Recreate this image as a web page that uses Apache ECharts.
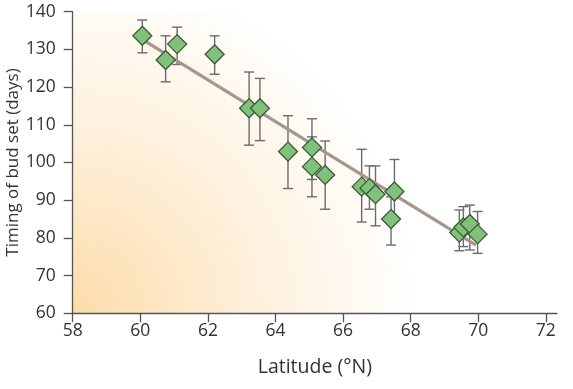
<!DOCTYPE html>
<html>
<head>
<meta charset="utf-8">
<script src="https://cdn.jsdelivr.net/npm/echarts@6/dist/echarts.min.js"></script>
<style>html,body{margin:0;padding:0;background:#fff;}#c{width:573px;height:389px;}</style>
</head>
<body>
<div id="c"></div>
<script>
// Data
const latitude = [60.06, 60.75, 61.09, 62.2, 63.22, 63.54, 64.37, 65.08, 65.08, 65.47, 66.55, 66.78, 66.96, 67.42, 67.52, 69.44, 69.56, 69.75, 69.98];
const budSet   = [133.6, 127.2, 131.4, 128.7, 114.4, 114.4, 102.9, 104.0, 98.9, 96.7, 93.6, 93.2, 91.6, 85.0, 92.3, 81.4, 82.8, 83.7, 81.0];
const errLow   = [129.1, 121.4, 126.0, 123.4, 104.6, 105.8, 93.1, 95.5, 90.9, 87.6, 84.2, 87.6, 83.2, 78.1, 85.1, 76.6, 77.7, 76.8, 75.9];
const errHigh  = [137.8, 133.6, 135.9, 133.6, 124.0, 122.3, 112.4, 111.6, 106.8, 105.7, 103.5, 99.1, 99.1, 90.9, 100.8, 87.4, 88.3, 88.7, 87.0];
const trendX = [60.08, 69.93];
const trendY = [132.5, 78.1];
const xTicks = [58, 60, 62, 64, 66, 68, 70, 72];
const yTicks = [60, 70, 80, 90, 100, 110, 120, 130, 140];

const pts = latitude.map((x, i) => [x, budSet[i]]);
const errs = latitude.map((x, i) => [x, errLow[i], errHigh[i]]);
const trend = trendX.map((x, i) => [x, trendY[i]]);

const chart = echarts.init(document.getElementById('c'), null, {renderer: 'canvas'});
const axisColor = '#555';
const font = '"Open Sans", sans-serif';
chart.setOption({
  animation: false,
  grid: {
    left: 72.7, right: 16, top: 11.7, bottom: 75.7,
    containLabel: false, outerBoundsMode: 'none',
    show: true, borderWidth: 0,
    backgroundColor: {
      type: 'radial', x: 0, y: 1, r: 1.15,
      colorStops: [
        {offset: 0, color: '#fddcaa'},
        {offset: 0.55, color: '#fef1de'},
        {offset: 1, color: '#ffffff'}
      ]
    }
  },
  xAxis: {
    type: 'value', min: 58, max: 72.33,
    name: 'Latitude (°N)', nameLocation: 'middle', nameGap: 44, nameMoveOverlap: false,
    nameTextStyle: {fontFamily: font, fontSize: 19.5, color: '#333'},
    axisLine: {show: true, onZero: false, lineStyle: {color: axisColor, width: 1.3}},
    axisTick: {show: true, length: 9, inside: false, customValues: xTicks, lineStyle: {color: axisColor, width: 1.3}},
    axisLabel: {customValues: xTicks, margin: 9, fontFamily: font, fontSize: 17.5, color: '#333'},
    splitLine: {show: false}
  },
  yAxis: {
    type: 'value', min: 60, max: 140, interval: 10,
    name: 'Timing of bud set (days)', nameLocation: 'middle', nameGap: 51, nameRotate: 90, nameMoveOverlap: false,
    nameTextStyle: {fontFamily: font, fontSize: 17, color: '#333'},
    axisLine: {show: true, lineStyle: {color: axisColor, width: 1.3}},
    axisTick: {show: true, length: 9, lineStyle: {color: axisColor, width: 1.3}},
    axisLabel: {margin: 17, fontFamily: font, fontSize: 17.5, color: '#333'},
    splitLine: {show: false}
  },
  series: [
    {
      type: 'custom', z: 2,
      data: errs,
      renderItem: function (params, api) {
        const x = api.value(0);
        const lo = api.coord([x, api.value(1)]);
        const hi = api.coord([x, api.value(2)]);
        const w = 5;
        const st = {stroke: '#6b6b6b', lineWidth: 1.4};
        return {type: 'group', children: [
          {type: 'line', shape: {x1: lo[0], y1: lo[1], x2: hi[0], y2: hi[1]}, style: st},
          {type: 'line', shape: {x1: lo[0] - w, y1: lo[1], x2: lo[0] + w, y2: lo[1]}, style: st},
          {type: 'line', shape: {x1: hi[0] - w, y1: hi[1], x2: hi[0] + w, y2: hi[1]}, style: st}
        ]};
      }
    },
    {
      type: 'line', z: 3, data: trend, symbol: 'none',
      lineStyle: {color: '#a5978a', width: 3.2}
    },
    {
      type: 'scatter', z: 4, data: pts, symbol: 'diamond', symbolSize: [19, 19],
      itemStyle: {color: '#80c17c', borderColor: '#3b5a37', borderWidth: 1.3, opacity: 1}
    }
  ]
});
</script>
</body>
</html>
